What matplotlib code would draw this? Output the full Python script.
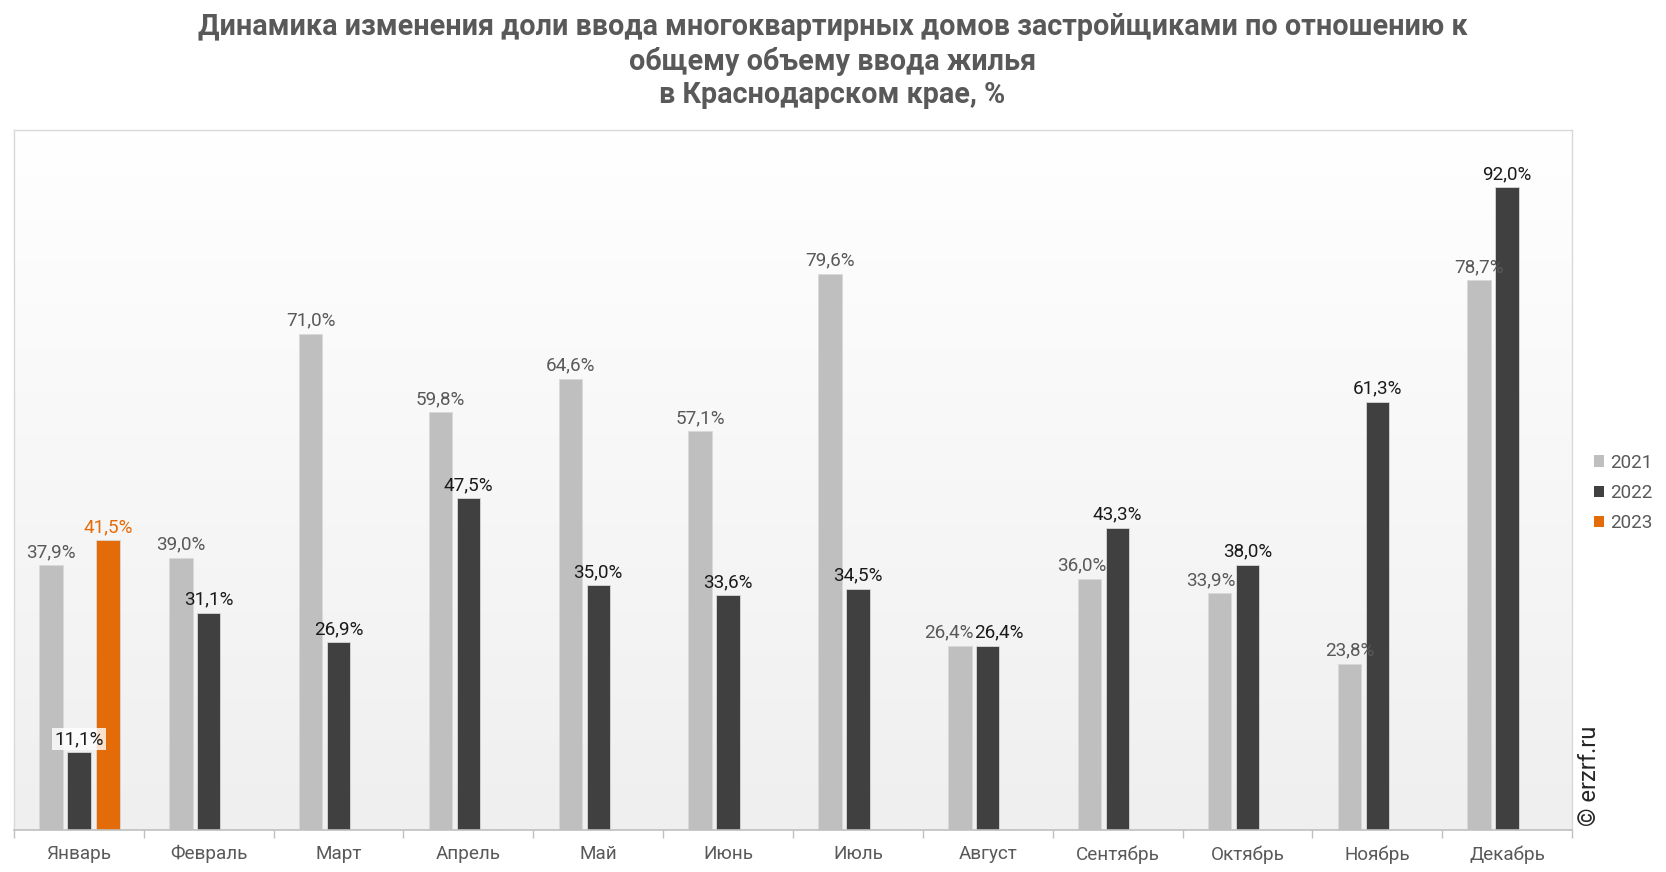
import matplotlib
matplotlib.use("Agg")
import matplotlib.pyplot as plt
import numpy as np
from matplotlib.patches import Patch

months = ["Январь", "Февраль", "Март", "Апрель", "Май", "Июнь", "Июль",
          "Август", "Сентябрь", "Октябрь", "Ноябрь", "Декабрь"]
v2021 = [37.9, 39.0, 71.0, 59.8, 64.6, 57.1, 79.6, 26.4, 36.0, 33.9, 23.8, 78.7]
v2022 = [11.1, 31.1, 26.9, 47.5, 35.0, 33.6, 34.5, 26.4, 43.3, 38.0, 61.3, 92.0]
v2023 = [41.5, None, None, None, None, None, None, None, None, None, None, None]
series_names = ["2021", "2022", "2023"]

title = ("Динамика изменения доли ввода многоквартирных домов застройщиками по отношению к\n"
         "общему объему ввода жилья\nв Краснодарском крае, %")

colors = ["#bfbfbf", "#404040", "#e36c09"]
label_colors = ["#595959", "#1a1a1a", "#e36c09"]

plt.rcParams['font.family'] = ['Roboto', 'DejaVu Sans']

W, H = 1666, 872
fig = plt.figure(figsize=(W / 100, H / 100), dpi=100)
ax = fig.add_axes([14 / W, 1 - 830 / H, (1572 - 14) / W, (830 - 130) / H])

# gradient background
grad = np.linspace(1.0, 0.0, 256).reshape(-1, 1)
ax.imshow(grad, extent=[0, 1, 0, 1], transform=ax.transAxes, aspect='auto',
          cmap=matplotlib.colors.LinearSegmentedColormap.from_list("g", ["#efefef", "#ffffff"]),
          zorder=0)

x = np.arange(len(months))
bw = 0.18
offsets = [-0.215, 0.0, 0.225]
all_vals = [v2021, v2022, v2023]

for si, vals in enumerate(all_vals):
    idx = [i for i, v in enumerate(vals) if v is not None]
    xs = [x[i] + offsets[si] for i in idx]
    hs = [vals[i] for i in idx]
    ax.bar(xs, hs, width=bw, color=colors[si], edgecolor="#d9d9d9", linewidth=0.6,
           zorder=2, label=series_names[si])
    for i, xi, h in zip(idx, xs, hs):
        txt = f"{h:.1f}%".replace(".", ",")
        kw = {}
        if si == 1 and h < 15:
            kw = dict(bbox=dict(boxstyle="square,pad=0.1", fc="white", ec="none", alpha=0.8))
        dx = 0
        other = all_vals[1 - si][i] if si < 2 else None
        if other is not None and abs(other - h) < 3:
            dx = -8 if si == 0 else 8
        elif si == 0 and other is not None and 0 < other - h < 9:
            dx = -6
        ax.annotate(txt, (xi, h), xytext=(dx, 3), textcoords="offset points",
                    ha="center", va="bottom", fontsize=13.6, color=label_colors[si],
                    zorder=4, **kw)

ax.set_xlim(-0.5, len(months) - 0.5)
ax.set_ylim(0, 100.2)
ax.set_yticks([])
ax.set_xticks(x)
ax.set_xticklabels(months, fontsize=13.6, color="#595959")
ax.tick_params(axis='x', which='major', length=0, pad=11)
ax.set_xticks(np.arange(-0.5, len(months), 1.0), minor=True)
ax.tick_params(axis='x', which='minor', length=6, color="#bfbfbf", width=1)

for side in ["top", "right", "left"]:
    ax.spines[side].set_color("#d9d9d9")
    ax.spines[side].set_linewidth(1)
ax.spines["bottom"].set_color("#bfbfbf")
ax.spines["bottom"].set_linewidth(1.2)

fig.text(0.5 * (187 + 1380) * 1.0625 / W, 1 - 13 / H, title, ha="center", va="top",
         fontsize=20.7, fontweight="bold", color="#595959", linespacing=1.25)

handles = [Patch(facecolor=c, edgecolor="none") for c in colors]
fig.legend(handles, series_names, loc="center left",
           bbox_to_anchor=(1577 / W, 1 - 493 / H), frameon=False,
           handlelength=0.55, handleheight=0.55, handletextpad=0.3,
           labelspacing=0.65, fontsize=13.6, labelcolor="#595959")

fig.text(1589 / W, 1 - 776 / H, "© erzrf.ru", rotation=90, ha="center", va="center",
         fontsize=17, color="#262626")

fig.savefig("out.png", dpi=100)
